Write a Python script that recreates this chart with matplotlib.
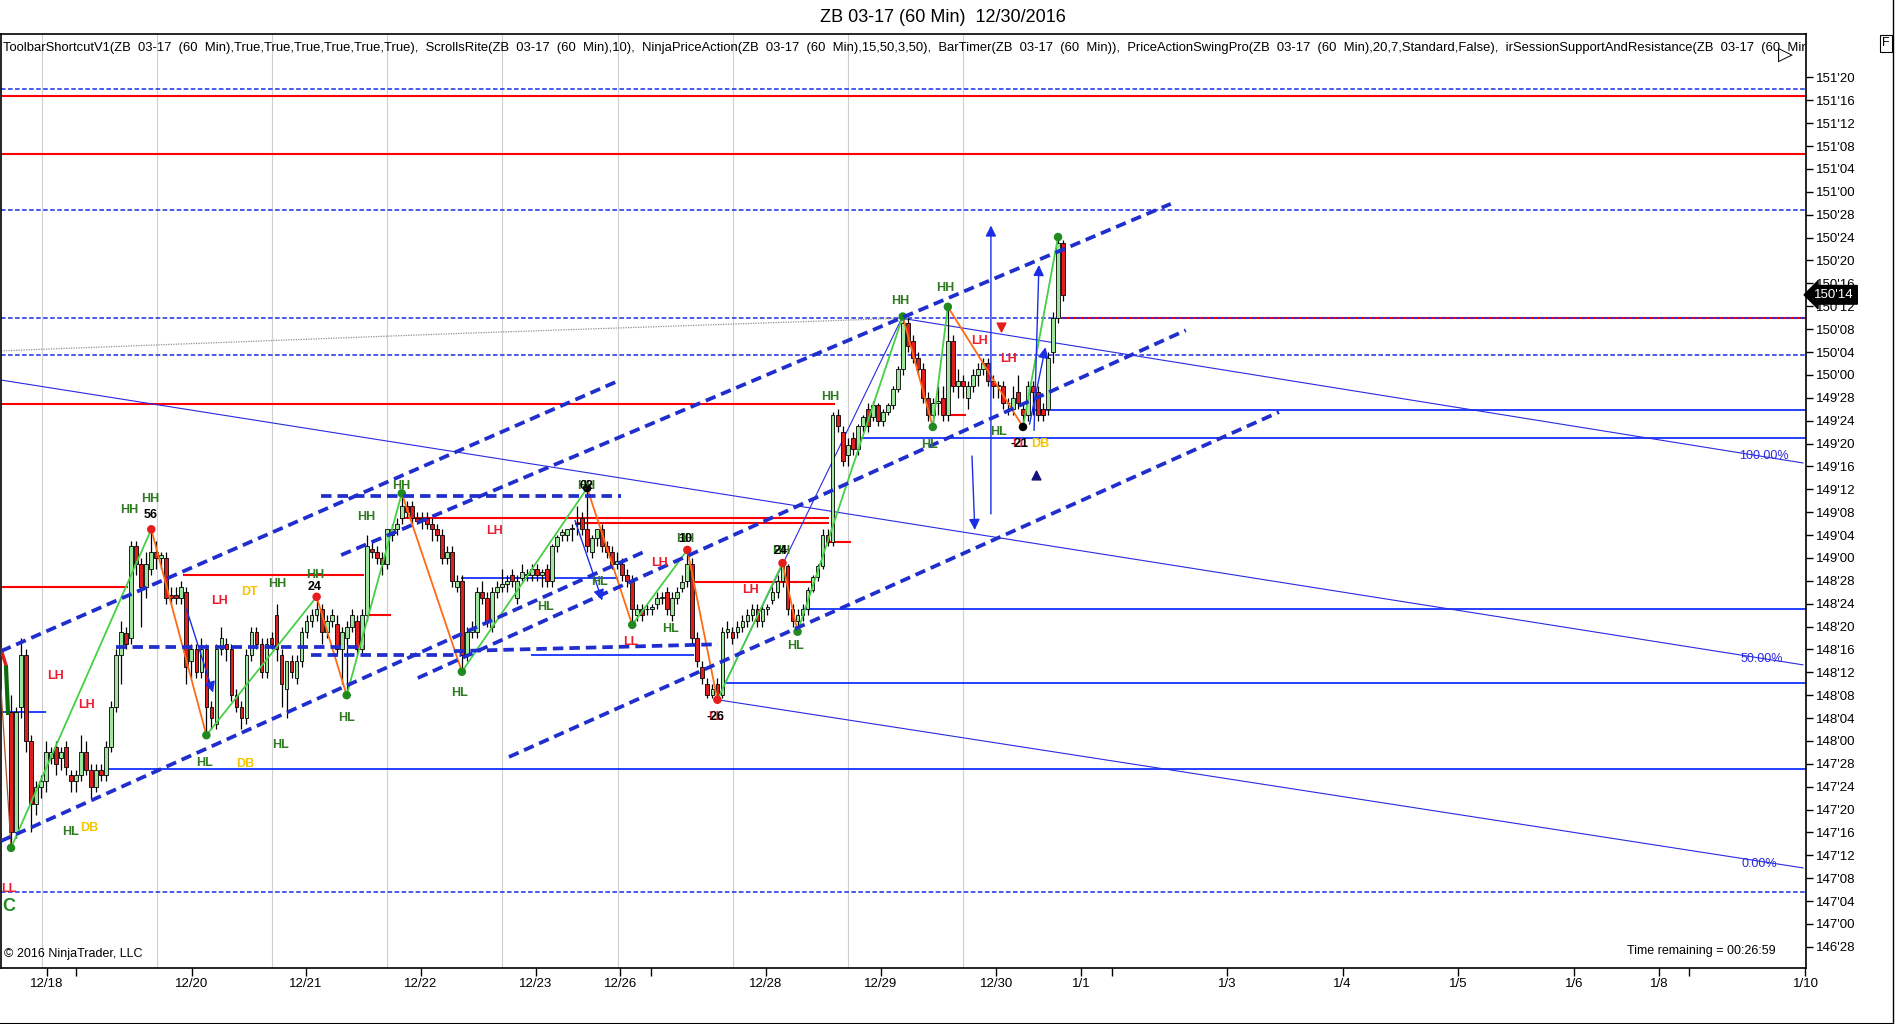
import numpy as np
import matplotlib
matplotlib.use("Agg")
import matplotlib.pyplot as plt

plt.rcParams["font.family"] = ["Liberation Sans", "DejaVu Sans"]

# ZB 03-17, 60 min bars. Prices are in 1/32nds above 146'00
BASE = 146.0

opens = [
    69, 48, 70, 79, 64, 53,
    56, 57, 61, 63, 61, 63, 58, 57, 58, 62, 59, 56, 59, 58, 63, 70, 79, 82.8, 82, 98, 95, 91, 94,
    97, 96, 96, 89.5, 89.5, 89, 90, 78, 80, 76, 80, 70, 67, 80, 81, 80, 72, 70, 68, 79, 83, 81, 76,
    82, 86, 79, 73, 78, 75, 78, 83, 85, 86, 87, 83, 85, 84.5, 80, 82, 84, 85, 80, 86, 97.5, 97, 96,
    95, 100, 101, 103, 105, 105, 103, 102.5, 103, 102, 101, 100, 96, 97, 91, 92, 79, 83, 83, 90, 89, 84, 90,
    91, 91.5, 93, 89, 92.5, 93, 93, 94, 93, 94, 92, 98, 100, 100, 101, 102, 103, 101, 97, 99.4, 101, 98, 97,
    95, 95, 93, 92, 86, 87, 87, 87, 88, 89, 90, 86, 89, 90.7, 92, 95, 82, 77, 74, 72, 74, 72, 83,
    83, 83, 84, 85, 86, 87, 85, 87, 88.6, 90, 92, 94.5, 87, 85, 86, 87, 90.4, 92.7, 94.5, 100, 98.8, 121, 118,
    114, 117, 115, 119, 122, 120.7, 122.7, 120, 121.5, 122.7, 125.5, 129, 137, 134, 131, 129, 124, 121, 123, 124, 121, 134, 126,
    127, 124, 126, 128, 129, 130, 127, 126, 126, 123, 122, 125, 122, 121, 126, 125, 122, 122, 132, 138, 151,
]
highs = [
    72, 70, 82, 80, 65, 57,
    58, 64, 63, 64, 63, 64, 59, 59, 65, 64, 60, 60, 60, 64, 71, 80, 85, 84, 99, 99, 96, 97, 101,
    99, 97, 97, 91, 91, 92, 91, 81, 81, 82, 81, 71, 81, 84, 82, 81, 73, 71, 80, 84, 84, 82, 82,
    83, 88, 80, 78, 79, 79, 84, 86, 87, 89.2, 88, 86, 87, 86, 84, 85, 87, 86, 87, 100, 99, 98, 97,
    101, 102, 103, 107.3, 106, 106, 104, 104, 104, 103, 102, 101, 98, 98, 93, 93, 84, 85, 91, 92, 90, 91, 92,
    94, 93, 94, 93, 95, 94, 95, 95, 94, 95, 98.5, 100, 101, 101, 102, 105, 104, 108.2, 100, 101, 102, 99, 98,
    97, 96, 94, 93, 88, 88, 88, 88, 90, 90, 91, 90, 91, 93, 97.4, 96, 83, 78, 75, 74, 75, 84, 85,
    84, 85, 86, 87, 88, 88, 88, 88, 91, 93, 95.1, 95, 88, 87, 88, 91, 93, 95, 101, 101, 121.5, 122, 119,
    117, 118, 119.5, 121, 123, 123.5, 123, 122, 123, 126, 129.5, 138.2, 138, 135, 132, 130, 125, 124, 126, 126, 139.9, 135, 129,
    128, 127, 129, 130, 131, 131, 128, 127, 127, 124, 126, 128, 123, 127, 127, 126, 123, 132, 139, 152.1, 151.5,
]
lows = [
    45.3, 47, 68, 62, 48, 51,
    54, 55, 60, 58, 59, 58, 55, 55, 57, 58, 54, 55, 57, 57, 62, 69, 74, 80, 81, 93, 84, 89, 93,
    94, 94, 88, 88, 88, 88, 74, 75, 75, 75, 65, 66, 66, 79, 78, 71, 69, 66, 67, 78, 80, 75, 75,
    80, 78, 70, 68, 75, 74, 77, 82, 84, 85, 81, 82, 84, 79, 74, 72, 83, 79, 79, 85, 96, 95, 93,
    94, 99, 100, 102, 103, 102, 102, 101, 101, 99, 99, 95, 95, 91, 90, 76.1, 78, 82, 82, 88, 84, 83, 89,
    90, 90, 91, 88, 92, 92, 92, 92, 91, 91, 91, 97, 99, 99, 99, 100, 100, 97, 96, 98, 97, 96, 94,
    94, 92, 91, 84.3, 85, 85, 86, 86, 87, 88, 86, 85, 88, 90, 91, 81, 77, 74, 71.5, 71.5, 71.2, 71.5, 82,
    81, 82, 83, 84, 85, 84, 84, 86, 88, 89, 91, 86, 84, 83.1, 85, 86, 90, 92, 94, 98, 98, 118, 112,
    112, 114, 114, 118, 118, 120, 119, 119, 121, 122, 125, 128, 132, 130, 128, 123, 120, 118.9, 121, 120, 120, 125, 124,
    124, 122, 125, 126, 128, 126, 124, 124, 122, 121, 121, 122, 118.9, 120, 121, 120, 120, 121, 130, 137, 141,
]
closes = [
    48, 69, 79, 64, 53, 56,
    57, 62, 62, 60, 62, 59.5, 57, 58, 62, 59, 56, 59, 58, 63, 70, 79, 83, 81, 98, 95, 91, 95, 97,
    96, 96.5, 89, 89, 89, 91, 77, 80, 76, 80, 70, 68, 80, 82, 80, 72, 70, 68, 79, 83, 81, 76, 81,
    81, 80, 74, 78, 76, 78, 83, 85, 86, 87, 83, 85, 86, 80, 83, 84, 86, 80, 86, 98, 97, 96, 95,
    101, 101, 102, 105, 104, 103, 102.5, 103, 102, 101, 100, 96, 97, 92, 92, 79, 83, 83.5, 90, 89, 85, 90, 91,
    91.5, 92, 92, 92, 93.5, 93, 94, 93, 93.5, 92, 98, 99.7, 100.5, 101, 101, 102, 101, 98, 99.4, 101, 98, 97, 95,
    95.5, 93, 92, 87, 87, 86, 87, 87.5, 89, 89, 87, 89, 90, 91.8, 95, 82, 78, 75, 72, 73, 72, 83, 83.5,
    82, 84, 85, 86, 87, 85, 87, 87.5, 90, 92, 94.5, 87, 85, 86, 87, 90.4, 92.7, 94.5, 100, 98.8, 121, 119, 113,
    115.7, 115, 119, 120.7, 119, 122.7, 120, 121.5, 122.7, 125.5, 129, 137, 133, 131, 129, 124, 121, 123, 123.5, 121, 134, 126, 127,
    126, 126, 128, 129, 130, 127, 126, 126, 123, 123, 124, 123, 121, 126, 125, 121, 121, 131, 138, 151, 142,
]

# first bar of each session (session break lines)
session_starts = [6, 29, 52, 75, 98, 121, 144, 167, 190]

# date axis (positions in bar slots, incl. future slots)
date_labels = ["12/18", "12/20", "12/21", "12/22", "12/23", "12/26", "12/28", "12/29", "12/30",
               "1/1", "1/3", "1/4", "1/5", "1/6", "1/8", "1/10"]
date_slots = [9.2, 38.1, 60.9, 83.8, 106.8, 123.6, 152.7, 175.6, 198.7,
              215.6, 244.7, 267.8, 290.8, 314.0, 330.9, 360.2]
minor_slots = [14.9, 129.7, 221.7, 336.9]

# swing points (bar index) and their dot colours
swing_bars = [0, 28, 39, 61, 67, 78, 90, 115, 124, 135, 141, 154, 157, 178, 184, 187, 202, 209]
swing_dots = ["g", "r", "g", "r", "g", "g", "g", "k", "g", "r", "r", "r", "g", "g", "g", "g", "k", "g"]

# support / resistance levels: (level, from slot, to slot)
red_levels = [(176.8, 0, 361), (166.7, 0, 361), (122.9, 0, 166.5), (137.9, 211.5, 361),
              (103.0, 79.6, 165.3), (102.1, 114.6, 165.3), (98.8, 165.0, 169.7), (91.0, 0, 25.3),
              (93.0, 36.3, 72.5), (86.0, 73.3, 77.8), (91.8, 138.0, 161.7), (121.0, 189.0, 192.6)]
blue_levels = [(121.8, 206.4, 361), (117.0, 171.7, 361), (92.5, 91.8, 123.2), (87.1, 160.3, 361),
               (74.1, 143.7, 361), (59.1, 20.6, 361), (69.1, 0, 9), (79.0, 105.8, 138.3)]
dashed_levels = [177.9, 156.9, 137.9, 131.4, 37.6]

# hand drawn channel lines: (x0, y0, x1, y1)
channels = [(63.9, 106.8, 123.8, 106.8), (23.0, 80.4, 72.5, 80.4), (61.9, 79.0, 91.8, 79.0),
            (90.4, 79.7, 143.1, 80.9), (0, 79.7, 123.6, 127.1), (0, 46.5, 128.7, 97.2),
            (83.2, 75.0, 236.5, 135.8), (101.4, 61.2, 255.1, 121.5), (67.9, 96.5, 233.5, 157.9)]
thin_lines = [(179.8, 137.9, 359.7, 112.6), (0, 127.1, 359.7, 77.3), (142.3, 71.3, 359.7, 41.8),
              (143.1, 71.5, 179.8, 137.9)]
fib_labels = [("100.00%", 351.8, 113.8), ("50.00%", 351.4, 78.3), ("0.00%", 351.0, 42.4)]
ma_x = [0, 90, 179.8]
ma_y = [132.2, 135.2, 137.9]
arrows = [(197.6, 103.2, 197.6, 154.6), (193.8, 114.3, 194.4, 100.4), (206.2, 117.8, 207.2, 147.7),
          (205.2, 118.9, 208.6, 133.3), (36.9, 87.4, 42.5, 72.0), (114.4, 103.0, 120.2, 88.1)]

labels = [
    ("HH", 25.7, 104.4, "g"), ("HH", 29.7, 106.3, "g"), ("56", 29.9, 103.5, "k"),
    ("LH", 10.8, 75.3, "r"), ("LH", 17.0, 70.3, "r"), ("LH", 43.7, 88.5, "r"),
    ("DT", 49.7, 90.0, "y"), ("HH", 55.1, 91.4, "g"), ("HH", 62.7, 93.0, "g"), ("24", 62.7, 91.0, "k"),
    ("HH", 72.9, 103.2, "g"), ("HH", 79.8, 108.5, "g"), ("LH", 98.6, 100.7, "r"),
    ("HH", 116.8, 108.5, "g"), ("02", 116.8, 108.5, "k"),
    ("HL", 108.6, 87.4, "g"), ("HL", 91.6, 72.4, "g"), ("HL", 68.9, 68.0, "g"), ("HL", 55.7, 63.3, "g"),
    ("HL", 40.7, 60.1, "g"), ("DB", 48.7, 60.0, "y"), ("HL", 13.8, 48.1, "g"), ("DB", 17.6, 48.8, "y"),
    ("LL", 1.6, 38.1, "r"),
    ("HL", 119.4, 91.8, "g"), ("LH", 131.5, 95.1, "r"), ("HH", 136.5, 99.3, "g"), ("10", 136.5, 99.3, "k"),
    ("LL", 125.7, 81.3, "r"), ("HL", 133.7, 83.6, "g"), ("LH", 149.7, 90.4, "r"),
    ("HH", 155.7, 97.2, "g"), ("24", 155.7, 97.2, "k"), ("HL", 158.5, 80.6, "g"),
    ("LL", 142.7, 68.2, "r"), ("-26", 142.7, 68.2, "k"),
    ("HH", 165.5, 124.1, "g"), ("HH", 179.6, 140.9, "g"), ("HL", 185.4, 115.7, "g"), ("HH", 188.4, 143.2, "g"),
    ("LH", 195.4, 133.9, "r"), ("LH", 201.2, 130.8, "r"), ("HL", 199.2, 118.0, "g"),
    ("LL", 203.4, 115.9, "r"), ("-21", 203.4, 115.9, "k"), ("DB", 207.4, 115.9, "y"),
]
label_colors = {"g": "#2f7a22", "r": "#ee1c2e", "y": "#f4c400", "k": "black"}
dot_colors = {"g": "#208a20", "r": "#e81c1c", "k": "black"}

last_price = 142
indicators = ("ToolbarShortcutV1(ZB  03-17  (60  Min),True,True,True,True,True,True),  "
              "ScrollsRite(ZB  03-17  (60  Min),10),  NinjaPriceAction(ZB  03-17  (60  Min),15,50,3,50),  "
              "BarTimer(ZB  03-17  (60  Min)),  PriceActionSwingPro(ZB  03-17  (60  Min),20,7,Standard,False),  "
              "irSessionSupportAndResistance(ZB  03-17  (60  Min))")


def price(v):
    return BASE + np.asarray(v, dtype=float) / 32.0


fig = plt.figure(figsize=(18.96, 10.24), dpi=100)
ax = fig.add_axes([1 / 1896, 56 / 1024, 1805 / 1896, 934 / 1024])
ax.set_xlim(0, 360.3)
ax.set_ylim(price(24.3), price(187.6))

# session breaks
for s in session_starts:
    ax.axvline(s + 2.1, color="#cfcfcf", lw=0.8, zorder=1)

# levels
for y, x0, x1 in red_levels:
    ax.hlines(price(y), x0, x1, color="#ff0000", lw=1.5, zorder=2)
for y, x0, x1 in blue_levels:
    ax.hlines(price(y), x0, x1, color="#1530ff", lw=1.3, zorder=2)
for y in dashed_levels:
    ax.axhline(price(y), color="#1a2ee6", lw=1.1, ls=(0, (3, 1.6)), zorder=2)
for x0, y0, x1, y1 in thin_lines:
    ax.plot([x0, x1], price([y0, y1]), color="#2a2ae0", lw=0.8, zorder=2)
for t, x, y in fib_labels:
    ax.text(x, price(y), t, color="#2a2ae0", fontsize=9, ha="center", va="center", zorder=3)
ax.plot(ma_x, price(ma_y), color="#909090", lw=0.9, ls=(0, (1, 1)), zorder=2)

# candles
n = len(closes)
xs = np.arange(n) + 2
o = np.array(opens, dtype=float)
c = np.array(closes, dtype=float)
up = c >= o
ax.vlines(xs, price(lows), price(highs), color="black", lw=0.9, zorder=4)
ax.bar(xs, np.maximum(np.abs(c - o), 0.15) / 32, bottom=price(np.minimum(o, c)), width=0.75,
       color=["#9ee69e" if u else "#e01e1e" for u in up], edgecolor="black", lw=0.6, zorder=5)

# swing zigzag
sx = np.array(swing_bars) + 2
sy = [lows[b] if k % 2 == 0 else highs[b] for k, b in enumerate(swing_bars)]
for k in range(len(sx) - 1):
    col = "#45cf45" if sy[k + 1] > sy[k] else "#ff6a13"
    ax.plot(sx[k:k + 2], price(sy[k:k + 2]), color=col, lw=1.3, zorder=6)
ax.scatter(sx, price(sy), s=26, c=[dot_colors[d] for d in swing_dots], zorder=7)

# channels
for x0, y0, x1, y1 in channels:
    ax.plot([x0, x1], price([y0, y1]), color="#1f2ecc", lw=2.7, ls=(0, (2.8, 1.6)),
            dash_capstyle="butt", zorder=7)

# arrows
for x0, y0, x1, y1 in arrows:
    ax.annotate("", xy=(x1, price(y1)), xytext=(x0, price(y0)),
                arrowprops=dict(arrowstyle="-|>", color="#1a2ee6", lw=1.0, mutation_scale=16),
                zorder=7)
ax.scatter([199.6], price([136.4]), marker="v", s=40, color="#e01e1e", zorder=7)
ax.scatter([206.6], price([110.5]), marker="^", s=40, color="#12127a", zorder=7)

# left edge indicator stub
ax.plot([1.0, 1.4], price([76.9, 68.9]), color="#0b6b0b", lw=3, zorder=6)
ax.plot([0.0, 0.9], price([80.0, 77.5]), color="#e01e1e", lw=2.5, zorder=6)
ax.plot([0.0, 2.0], price([73.0, 45.5]), color="#a0522d", lw=0.9, zorder=6)

# swing labels
for t, x, y, k in labels:
    ax.text(x, price(y), t, color=label_colors[k], fontsize=9, fontweight="bold",
            ha="center", va="center", zorder=8)
ax.text(1.6, price(35.0), "C", color="#1f8a1f", fontsize=13, fontweight="bold",
        ha="center", va="center", zorder=8)

# axes
yt = np.arange(28, 181, 4)
ax.yaxis.tick_right()
ax.set_yticks(price(yt))
ax.set_yticklabels([f"{146 + v // 32}'{v % 32:02d}" for v in yt])
ax.set_xticks(date_slots)
ax.set_xticklabels(date_labels)
ax.set_xticks(minor_slots, minor=True)
ax.tick_params(axis="y", direction="out", length=5, width=1, labelsize=9.5, pad=2)
ax.tick_params(axis="x", which="both", direction="out", length=6, width=1, labelsize=9.5, pad=1)
for sp in ax.spines.values():
    sp.set_linewidth(1.2)

# texts
ax.text(0.001, 0.985, indicators, transform=ax.transAxes, fontsize=9.4, ha="left", va="center",
        clip_on=True, zorder=9)
ax.text(0.0015, 0.009, "\u00a9 2016 NinjaTrader, LLC", transform=ax.transAxes, fontsize=9,
        ha="left", va="bottom", zorder=9)
ax.text(0.983, 0.012, "Time remaining = 00:26:59", transform=ax.transAxes, fontsize=9,
        ha="right", va="bottom", zorder=9)
ax.text(0.9885, 0.978, "\u25b7", transform=ax.transAxes, fontsize=14, ha="center", va="center",
        family="DejaVu Sans", zorder=9)
ax.annotate(f"{146 + last_price // 32}'{last_price % 32:02d}", xy=(1.0, price(last_price)),
            xycoords=("axes fraction", "data"), xytext=(6, 0), textcoords="offset points",
            color="white", fontsize=9.5, ha="left", va="center",
            bbox=dict(boxstyle="larrow,pad=0.25", fc="black", ec="black"), annotation_clip=False)

fig.text(943 / 1896, 1 - 17 / 1024, "ZB 03-17 (60 Min)  12/30/2016", fontsize=13,
         ha="center", va="center")
fig.text(1886 / 1896, 1 - 43 / 1024, "F", fontsize=9, ha="center", va="center",
         bbox=dict(boxstyle="square,pad=0.2", fc="white", ec="black", lw=0.8))
fig.add_artist(plt.Line2D([1893 / 1896, 1893 / 1896], [0, 1], color="black", lw=1))
fig.add_artist(plt.Line2D([0, 1893 / 1896], [0.5 / 1024, 0.5 / 1024], color="black", lw=1.5))

fig.savefig("out.png", dpi=100)
